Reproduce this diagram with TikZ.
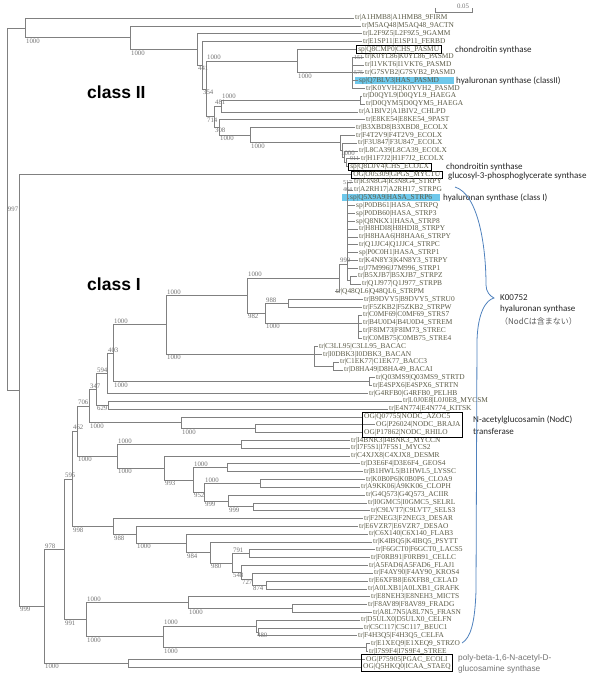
\documentclass[tikz,border=0pt]{standalone}
\usepackage{fontspec}
\setmainfont{Liberation Serif}
\newfontfamily\annfont{Carlito}
\newfontfamily\classfont{Liberation Sans}
\newfontfamily\jpfont{Noto Sans CJK JP}
\usetikzlibrary{calc,fit,backgrounds}

\definecolor{branchgray}{RGB}{128,128,128}
\definecolor{leafcol}{RGB}{90,90,70}
\definecolor{bscol}{RGB}{115,115,115}
\definecolor{hlcyan}{RGB}{110,200,235}
\definecolor{bracecol}{RGB}{79,129,189}

\tikzset{
  branch/.style={draw=branchgray, line width=0.6pt},
  leaf/.style={anchor=west, inner xsep=1pt, inner ysep=0.6pt, text=leafcol,
    font=\fontsize{7.4}{8}\selectfont},
  plain/.style={},
  boxed/.style={draw=black, line width=0.6pt, inner xsep=2pt, inner ysep=0.2pt},
  bs/.style={inner sep=0.8pt, text=bscol, font=\fontsize{6.8}{7}\selectfont},
  bsup/.style={bs, pos=.5, anchor=south west},
  bsdown/.style={bs, pos=.5, anchor=north west},
  note/.style={anchor=west, inner sep=0pt, text=black!85,
    font=\annfont\fontsize{9}{10}\selectfont},
  group/.style={draw=black, line width=0.6pt, inner sep=0.4pt},
}

% clade: name, x, upper child, lower child, upper label, lower label
\newcommand\clade[6]{%
  \path let \p1=($(#3)!.5!(#4)$) in (#2pt,\y1) coordinate (#1);
  \draw[branch] (#1) |- (#3) node[bsup] {#5};
  \draw[branch] (#1) |- (#4) node[bsdown] {#6};
}
% fan: name, x, y, children
\newcommand\fan[4]{%
  \coordinate (#1) at (#2,#3);
  \foreach \c in {#4} {\draw[branch] (#1) |- (\c);}
}

\begin{document}
\begin{tikzpicture}[x=1pt,y=-1pt]
\useasboundingbox (0,0) rectangle (600,679);

% leaves
\foreach \x/\t/\s [count=\i] in {
  354/{tr|A1HMB8|A1HMB8\_9FIRM}/plain,
  361/{tr|M5AQ48|M5AQ48\_9ACTN}/plain,
  362/{tr|L2F9Z5|L2F9Z5\_9GAMM}/plain,
  362/{tr|E1SP11|E1SP11\_FERBD}/plain,
  356/{sp|Q8CMP0|CHS\_PASMU}/boxed,
  364/{tr|K0YL86|K0YL86\_PASMD}/plain,
  364/{tr|I1VKT6|I1VKT6\_PASMD}/plain,
  364/{tr|G7SVB2|G7SVB2\_PASMD}/plain,
  358/{sp|Q7BLV3|HAS\_PASMD}/plain,
  365/{tr|K0YVH2|K0YVH2\_PASMD}/plain,
  362/{tr|D0QYL9|D0QYL9\_HAEGA}/plain,
  365/{tr|D0QYM5|D0QYM5\_HAEGA}/plain,
  358/{tr|A1BIV2|A1BIV2\_CHLPD}/plain,
  365/{tr|E8KE54|E8KE54\_9PAST}/plain,
  355/{tr|B3XBD8|B3XBD8\_ECOLX}/plain,
  355/{tr|F4T2V9|F4T2V9\_ECOLX}/plain,
  357/{tr|F3U847|F3U847\_ECOLX}/plain,
  358/{tr|L8CA39|L8CA39\_ECOLX}/plain,
  360/{tr|H1F7J2|H1F7J2\_ECOLX}/plain,
  348/{sp|Q8L0V4|CHS\_ECOLX}/boxed,
  351/{OG|O05309|GPGS\_MYCTU}/boxed,
  353/{tr|R3N8G4|R3N8G4\_STRPY}/plain,
  353/{tr|A2RH17|A2RH17\_STRPG}/plain,
  349/{sp|Q5X9A9|HASA\_STRP6}/plain,
  355/{sp|P0DB61|HASA\_STRPQ}/plain,
  355/{sp|P0DB60|HASA\_STRP3}/plain,
  355/{sp|Q8NKX1|HASA\_STRP8}/plain,
  358/{tr|H8HDI8|H8HDI8\_STRPY}/plain,
  358/{tr|H8HAA6|H8HAA6\_STRPY}/plain,
  358/{tr|Q1JJC4|Q1JJC4\_STRPC}/plain,
  358/{sp|P0C0H1|HASA\_STRP1}/plain,
  358/{tr|K4N8Y3|K4N8Y3\_STRPY}/plain,
  358/{tr|J7M996|J7M996\_STRP1}/plain,
  357/{tr|B5XJB7|B5XJB7\_STRPZ}/plain,
  361/{tr|Q1J977|Q1J977\_STRPB}/plain,
  335/{tr|Q48QL6|Q48QL6\_STRPM}/plain,
  363/{tr|B9DVY5|B9DVY5\_STRU0}/plain,
  362/{tr|F5ZKB2|F5ZKB2\_STRPW}/plain,
  362/{tr|C0MF69|C0MF69\_STRS7}/plain,
  362/{tr|B4U0D4|B4U0D4\_STREM}/plain,
  362/{tr|F8IM73|F8IM73\_STREC}/plain,
  362/{tr|C0MB75|C0MB75\_STRE4}/plain,
  318/{tr|C3LL95|C3LL95\_BACAC}/plain,
  322/{tr|I0DBK3|I0DBK3\_BACAN}/plain,
  339/{tr|C1EK77|C1EK77\_BACC3}/plain,
  343/{tr|D8HA49|D8HA49\_BACAI}/plain,
  375/{tr|Q03MS9|Q03MS9\_STRTD}/plain,
  372/{tr|E4SPX6|E4SPX6\_STRTN}/plain,
  368/{tr|G4RFB0|G4RFB0\_PELHB}/plain,
  402/{tr|L0J0E8|L0J0E8\_MYCSM}/plain,
  388/{tr|E4N774|E4N774\_KITSK}/plain,
  363/{OG|Q07755|NODC\_AZOC5}/plain,
  375/{OG|P26024|NODC\_BRAJA}/plain,
  363/{OG|P17862|NODC\_RHILO}/plain,
  350/{tr|I4BNK3|I4BNK3\_MYCCN}/plain,
  350/{tr|I7F5S1|I7F5S1\_MYCS2}/plain,
  350/{tr|C4XJX8|C4XJX8\_DESMR}/plain,
  360/{tr|D3E6F4|D3E6F4\_GEOS4}/plain,
  363/{tr|B1HWL5|B1HWL5\_LYSSC}/plain,
  365/{tr|K0B0P6|K0B0P6\_CLOA9}/plain,
  360/{tr|A9KK06|A9KK06\_CLOPH}/plain,
  365/{tr|G4Q573|G4Q573\_ACIIR}/plain,
  367/{tr|I0GMC5|I0GMC5\_SELRL}/plain,
  370/{tr|C9LVT7|C9LVT7\_SELS3}/plain,
  363/{tr|F2NEG3|F2NEG3\_DESAR}/plain,
  358/{tr|E6VZR7|E6VZR7\_DESAO}/plain,
  368/{tr|C6X140|C6X140\_FLAB3}/plain,
  372/{tr|K4IBQ5|K4IBQ5\_PSYTT}/plain,
  375/{tr|F6GCT0|F6GCT0\_LACS5}/plain,
  370/{tr|F0RB91|F0RB91\_CELLC}/plain,
  368/{tr|A5FAD6|A5FAD6\_FLAJ1}/plain,
  373/{tr|F4AY90|F4AY90\_KROS4}/plain,
  368/{tr|E6XFB8|E6XFB8\_CELAD}/plain,
  367/{tr|A0LXB1|A0LXB1\_GRAFK}/plain,
  370/{tr|E8NEH3|E8NEH3\_MICTS}/plain,
  367/{tr|F8AV89|F8AV89\_FRADG}/plain,
  372/{tr|A8L7N5|A8L7N5\_FRASN}/plain,
  360/{tr|D5ULX0|D5ULX0\_CELFN}/plain,
  363/{tr|C5C117|C5C117\_BEUC1}/plain,
  357/{tr|F4H3Q5|F4H3Q5\_CELFA}/plain,
  370/{tr|E1XEQ9|E1XEQ9\_STRZO}/plain,
  368/{tr|I7S9F4|I7S9F4\_STREE}/plain,
  365/{OG|P75905|PGAC\_ECOLI}/plain,
  362/{OG|Q5HKQ0|ICAA\_STAEQ}/plain}
  \node[leaf,\s] (l\i) at (\x,{18+(\i-1)*7.82}) {\t};

% class II
\fan{I}{352}{72.7}{l6,l7,l8,l9,l10}
\clade{G}{297}{l5}{I}{}{1000}
\clade{J}{360}{l11}{l12}{}{}
\clade{K}{221}{J}{l13}{1000}{}
\clade{P2}{346}{l19}{l20}{}{}
\clade{P}{344}{l18}{P2}{}{}
\clade{O}{342}{l17}{P}{}{}
\clade{N}{340}{l16}{O}{}{1000}
\clade{M}{250}{l15}{N}{}{1000}
\clade{X}{219}{l14}{M}{}{1000}
\clade{H}{214}{K}{X}{481}{308}
\clade{F}{206}{G}{H}{1000}{714}
\clade{E}{202}{l4}{F}{}{354}
\clade{D}{197}{l3}{E}{}{441}
\clade{C}{130}{l2}{D}{}{1000}
\clade{A}{25}{l1}{C}{}{1000}

% class I
\clade{S10}{350}{l34}{l35}{}{}
\fan{S8}{347}{264}{l22,l23,l24,l25,l26,l27,l28,l29,l30,l31,l32,l33,S10}
\clade{S7}{339}{S8}{l36}{999}{}
\clade{S5}{288}{l37}{l38}{}{}
\fan{S6}{358}{323}{l39,l40,l41,l42}
\clade{S4}{265}{S5}{S6}{988}{1000}
\clade{S3}{247}{S7}{S4}{1000}{982}
\clade{P45}{333}{l45}{l46}{}{}
\fan{BA}{314}{354}{l43,l44,P45}
\clade{S2}{166}{S3}{BA}{1000}{1000}
\clade{S1b}{369}{l47}{l48}{}{}
\clade{S1}{113}{S2}{S1b}{1000}{1000}
\clade{U13}{107}{S1}{l49}{403}{}
\clade{U12b}{108}{l50}{l51}{}{}
\clade{U12}{96}{U13}{U12b}{594}{629}
\clade{NC2}{255}{l53}{l54}{}{}
\clade{NC}{181}{l52}{NC2}{}{1000}
\clade{U11}{89}{U12}{NC}{347}{1000}
\clade{Y1}{241}{l55}{l56}{}{}
\clade{Y3a}{227}{l58}{l59}{}{}
\clade{Y4a}{260}{l60}{l61}{}{}
\clade{Y5b}{253}{l63}{l64}{}{}
\clade{Y5}{228}{l62}{Y5b}{}{999}
\clade{Y4}{204}{Y4a}{Y5}{1000}{999}
\clade{Y3}{193}{Y3a}{Y4}{1000}{952}
\clade{Y2}{164}{l57}{Y3}{}{993}
\clade{Y}{117}{Y1}{Y2}{1000}{1000}
\clade{U1}{77}{U11}{Y}{706}{1000}
\clade{U10}{266}{l73}{l74}{}{}
\clade{U9}{252}{l72}{U10}{}{874}
\clade{U8}{241}{l71}{U9}{}{727}
\clade{U7}{249}{l69}{l70}{}{}
\clade{U6}{232}{U7}{U8}{791}{548}
\clade{U5}{210}{l68}{U6}{}{980}
\clade{U4}{186}{l67}{U5}{}{984}
\clade{U3}{136}{l66}{U4}{}{1000}
\clade{U2}{113}{l65}{U3}{}{988}
\clade{U}{72}{U1}{U2}{462}{998}
\clade{V1b}{292}{l76}{l77}{}{}
\clade{V1}{188}{l75}{V1b}{}{1000}
\clade{W2}{258}{l79}{l80}{}{}
\clade{W}{256}{l78}{W2}{}{480}
\clade{Z}{366}{l81}{l82}{}{}
\clade{V2}{163}{W}{Z}{1000}{1000}
\clade{V}{86}{V1}{V2}{1000}{1000}
\clade{T}{64}{U}{V}{595}{991}
\clade{PG}{128}{l83}{l84}{}{}
\clade{B2}{44}{T}{PG}{978}{1000}
\clade{B}{19}{l21}{B2}{}{999}
\clade{root}{7}{A}{B}{}{}
\node[bs, anchor=west] (rootlab) at (root) {997};

% small values inside the dense clusters
\foreach \n/\v in {l6/151, l8/575, l19/911, l22/517, l23/464}
  \node[bs, anchor=east, font=\fontsize{6}{6}\selectfont] (b\n) at (\n.west) {\v};

% highlights and boxes
\begin{scope}[on background layer]
  \fill[hlcyan] ($(l9.west)+(-3,-3.6)$) rectangle ++(99,7.2);
  \fill[hlcyan] ($(l24.west)+(-7,-3.6)$) rectangle ++(98,7.2);
\end{scope}
\node[group, fit=(l52)(l53)(l54)] (nodcbox) {};
\node[group, fit=(l83)(l84)] (pgacbox) {};

% scale bar
\draw[branch] (435,8) -- (435,12) -- (472,12) -- (472,8);
\node[bs] (scale) at (463,6) {0.05};

% class titles
\node[anchor=base west, inner sep=0pt, font=\classfont\bfseries\fontsize{17.5}{18}\selectfont] (cII) at (87,99) {class II};
\node[anchor=base west, inner sep=0pt, font=\classfont\bfseries\fontsize{17.5}{18}\selectfont] (cI) at (87,290) {class I};

% notes
\node[note] (chs1) at (455,50) {chondroitin synthase};
\node[note] (has2) at (456,81) {hyaluronan synthase (classII)};
\node[note] (chs2) at (446,167) {chondroitin synthase};
\node[note] (gpgs) at (448,176) {glucosyl-3-phosphoglycerate synthase};
\node[note] (has1) at (443,198) {hyaluronan synthase (class I)};
\node[note] (ko) at (500,298) {K00752};
\node[note] (ko2) at (500,309) {hyaluronan synthase};
\node[note, text=black!65, font=\jpfont\fontsize{8}{9}\selectfont] (ko3) at (500,321) {（NodCは含まない）};
\node[note] (nodc) at (473,420) {N-acetylglucosamin (NodC)};
\node[note] (nodc2) at (473,431) {transferase};
\node[note, text=black!55, font=\classfont\fontsize{8.3}{9}\selectfont] (pgac) at (458,658) {poly-beta-1,6-N-acetyl-D-};
\node[note, text=black!55, font=\classfont\fontsize{8.3}{9}\selectfont] (pgac2) at (458,669) {glucosamine synthase};

% brace
\draw[bracecol, line width=0.8pt] (455,187) .. controls (478,194) and (486,245) .. (486,285)
  .. controls (486,292) and (490,296) .. (494,298)
  .. controls (486,300) and (478,312) .. (477,340) -- (476,590)
  .. controls (475,625) and (470,638) .. (462,643);
\end{tikzpicture}
\end{document}
